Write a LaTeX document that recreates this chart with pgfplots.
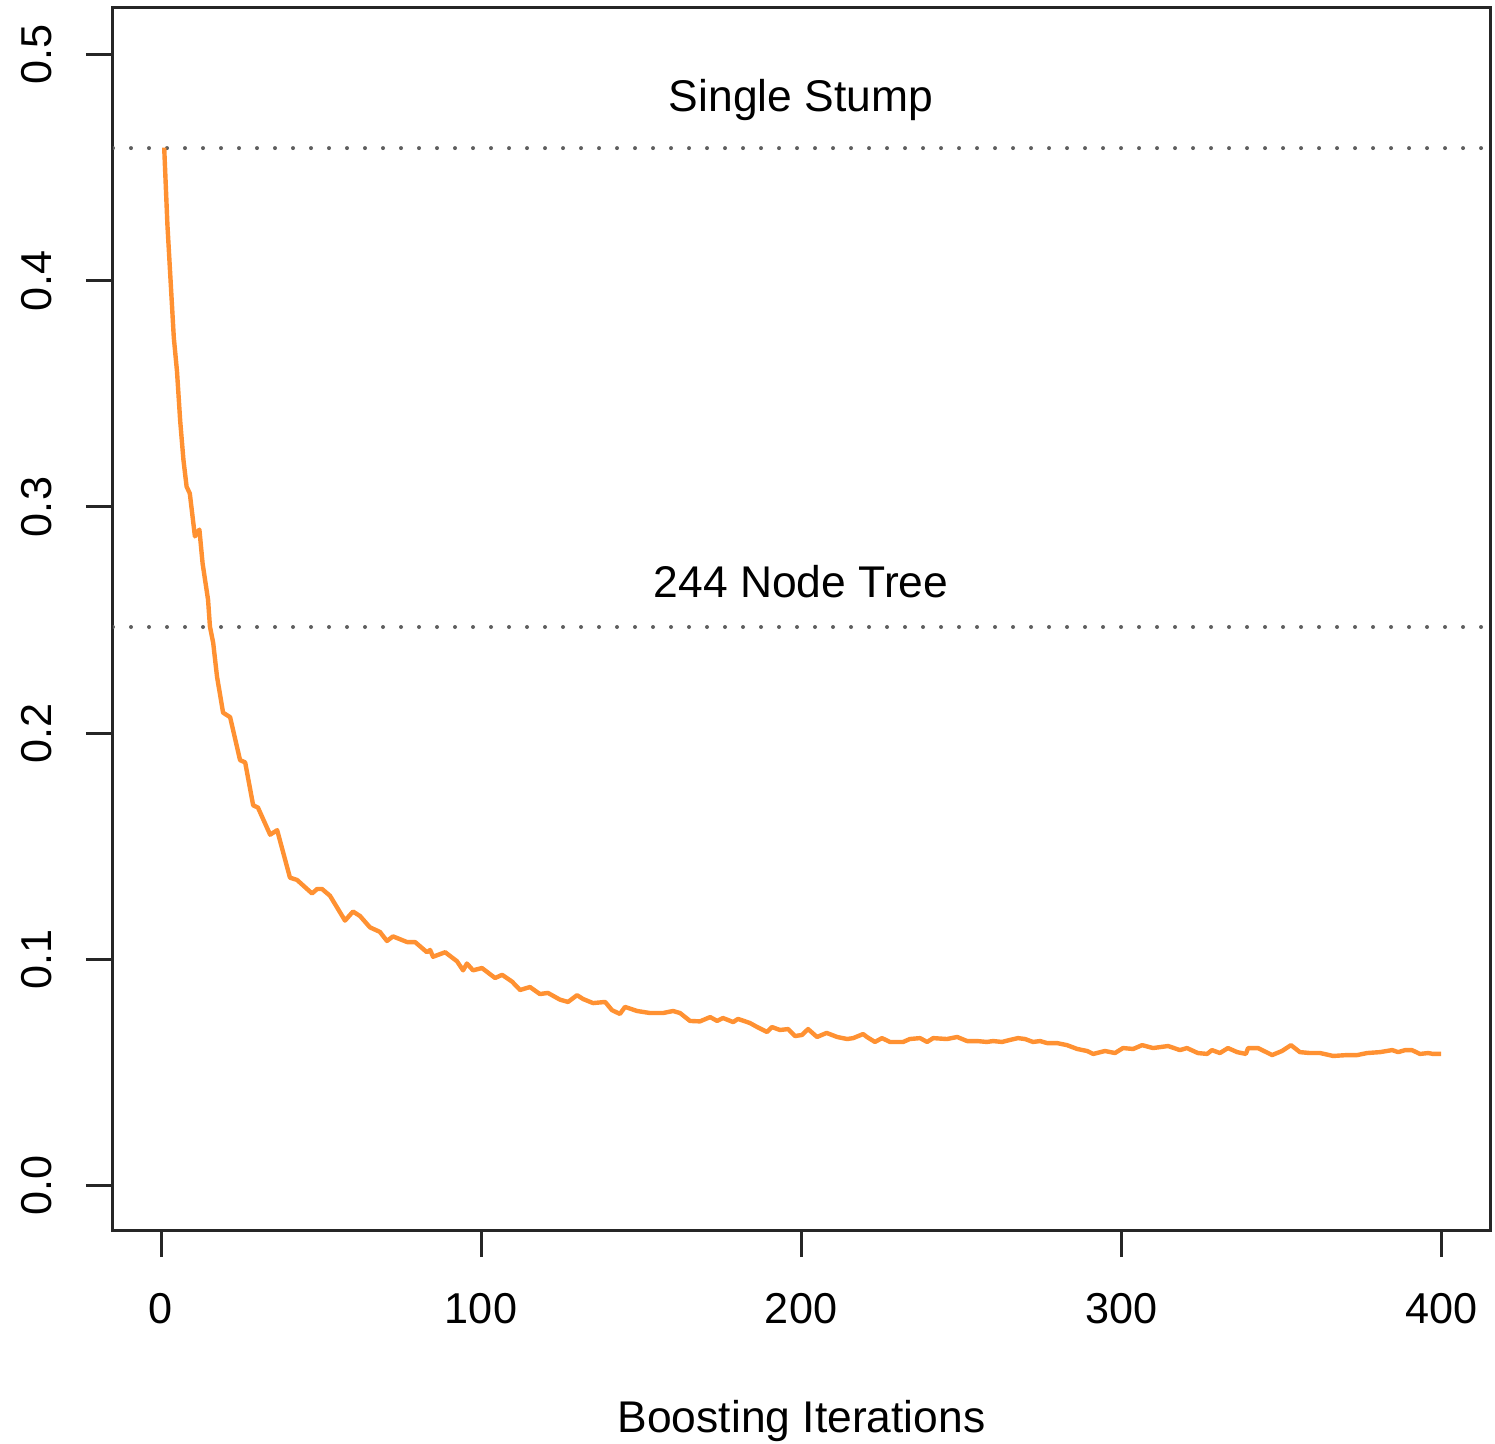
\documentclass[border=0pt]{standalone}
\usepackage{pgfplots}
\pgfplotsset{compat=1.18}
\usepackage{fontspec}
\setmainfont{Liberation Sans}
\definecolor{curve}{RGB}{255,145,50}
\definecolor{dotgray}{RGB}{95,95,95}
\begin{document}
\begin{tikzpicture}
\useasboundingbox (-28.25pt,-53.25pt) rectangle (345.5pt,307.5pt);
\begin{axis}[
  at={(0pt,0pt)}, anchor=south west,
  scale only axis,
  width=344.25pt, height=305.5pt,
  xmin=-15, xmax=415.3,
  ymin=-0.0199, ymax=0.5208,
  xtick={0,100,200,300,400},
  ytick={0,0.1,0.2,0.3,0.4,0.5},
  xtick pos=bottom, ytick pos=left,
  tick align=outside,
  major tick length=6.75pt,
  axis line style={line width=0.75pt, black!85},
  every tick/.style={line width=0.75pt, black!85},
  /pgf/number format/assume math mode=true,
  yticklabel={\pgfmathprintnumber[fixed,fixed zerofill,precision=1]{\tick}},
  xticklabel style={font=\fontsize{10.8}{13}\selectfont, anchor=north, yshift=-5.5pt},
  yticklabel style={font=\fontsize{10.8}{13}\selectfont, rotate=90, anchor=south, yshift=5pt},
  xlabel={Boosting Iterations},
  xlabel style={font=\fontsize{11.1}{13}\selectfont, at={(axis description cs:0.5,0)}, anchor=base, yshift=-50.5pt},
  clip=true,
]
\addplot[dotgray, line width=1pt, line cap=round, dash pattern=on 0pt off 4.5pt, forget plot] coordinates {(-15,0.4588) (415.3,0.4588)};
\addplot[dotgray, line width=1pt, line cap=round, dash pattern=on 0pt off 4.5pt, forget plot] coordinates {(-15,0.2469) (415.3,0.2469)};
\addplot[curve, line width=1.1pt, line join=round] coordinates {
(1,0.459)(2,0.425)(3,0.400)(4,0.375)(5,0.360)(6,0.338)(7,0.321)(8,0.309)(9,0.306)(10.6,0.287)(12,0.290)(13,0.275)(14.7,0.259)(15.3,0.247)(16.3,0.240)(17.5,0.225)(19.4,0.209)(21.6,0.207)(24.7,0.188)(26.3,0.187)(28.8,0.168)(30.3,0.167)(34.1,0.155)(36.3,0.157)(40.3,0.136)(42.5,0.135)(47.2,0.129)(48.8,0.131)(50.3,0.131)(52.8,0.128)(57.5,0.117)(60,0.121)(62.2,0.119)(65.3,0.114)(68.4,0.112)(70.6,0.108)(72.5,0.110)(76.9,0.1075)(79.4,0.1075)(83.1,0.103)(84.1,0.104)(85,0.101)(88.8,0.103)(92.5,0.099)(94.4,0.095)(95.6,0.098)(97.5,0.095)(100.3,0.096)(104.4,0.0916)(106.6,0.093)(109.7,0.090)(112.2,0.0863)(115.3,0.0876)(118.4,0.0845)(120.9,0.085)(124.7,0.082)(127.2,0.081)(130,0.084)(131.9,0.0823)(135,0.0805)(138.8,0.081)(140.9,0.0774)(143.4,0.0757)(145,0.0788)(148.8,0.077)(152.8,0.0761)(156.9,0.0761)(160,0.077)(162.2,0.0761)(165.3,0.0726)(168.4,0.0724)(171.6,0.0743)(173.8,0.0726)(175.6,0.0739)(178.8,0.0721)(180.3,0.0735)(184,0.0717)(186.3,0.0699)(189.4,0.0677)(190.9,0.0699)(193.4,0.0686)(196,0.069)(198.1,0.0659)(200.3,0.0664)(202.2,0.069)(205,0.0655)(208,0.0673)(211.3,0.0655)(214.4,0.0646)(216.3,0.065)(219.4,0.0668)(220.6,0.0655)(223.1,0.0633)(225.3,0.065)(227.8,0.0633)(231.9,0.0633)(234,0.0646)(237.2,0.065)(239.4,0.0633)(241.3,0.065)(245.6,0.0646)(248.8,0.0655)(251.9,0.0637)(255,0.0637)(258.1,0.0633)(260,0.0637)(262.8,0.0633)(265.3,0.0642)(267.8,0.065)(270,0.0646)(272.5,0.0633)(274.7,0.0637)(276.9,0.0628)(280,0.0628)(283.1,0.0619)(286.3,0.0602)(289.4,0.0593)(291.3,0.058)(295,0.0593)(298.1,0.0584)(300.6,0.0606)(303.8,0.0602)(306.6,0.0619)(310,0.0606)(314.7,0.0615)(318.4,0.0597)(320.6,0.0606)(324,0.0584)(326.9,0.058)(328.4,0.0597)(330.9,0.0584)(333.4,0.0606)(336.3,0.0588)(339,0.058)(339.7,0.0606)(342.8,0.0606)(347.2,0.0575)(350.3,0.0593)(353.1,0.0619)(355.9,0.0588)(359,0.0584)(362.2,0.0584)(366.3,0.0571)(370.6,0.0575)(373.8,0.0575)(376.9,0.0584)(380.9,0.0588)(384.7,0.0597)(386.6,0.0588)(388.8,0.0597)(390.9,0.0597)(393.4,0.058)(396,0.0584)(397.5,0.058)(400,0.058)
};
\node[font=\fontsize{11.1}{13}\selectfont] at (axis cs:200,0.480) {Single Stump};
\node[font=\fontsize{11.1}{13}\selectfont] at (axis cs:200,0.2668) {244 Node Tree};
\end{axis}
\end{tikzpicture}
\end{document}
